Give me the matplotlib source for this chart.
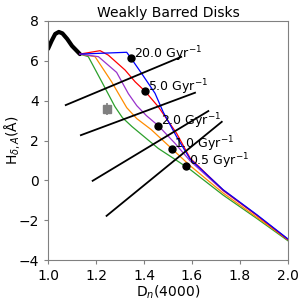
import matplotlib
matplotlib.use('Agg')
import matplotlib.pyplot as plt
import numpy as np

# early rising part of the model track
peak_x = [1.0, 1.015, 1.03, 1.045, 1.06, 1.08, 1.10, 1.133]
peak_y = [6.6, 7.0, 7.35, 7.45, 7.38, 7.1, 6.75, 6.34]

# SFH tracks, one per colour
blue_x = [1.133, 1.328, 1.346, 1.39, 1.446, 1.48, 1.536, 1.592, 1.73, 1.87, 2.0]
blue_y = [6.34, 6.43, 6.13, 5.37, 4.37, 3.43, 2.19, 1.07, -0.47, -1.72, -2.94]

red_x = [1.133, 1.217, 1.251, 1.321, 1.363, 1.404, 1.46, 1.536, 1.592, 1.73, 1.87, 2.0]
red_y = [6.34, 6.51, 6.29, 5.54, 4.95, 4.48, 3.69, 2.36, 1.12, -0.49, -1.75, -2.97]

purple_x = [1.133, 1.21, 1.286, 1.335, 1.37, 1.41, 1.46, 1.53, 1.592, 1.73, 1.87, 2.0]
purple_y = [6.34, 6.21, 5.42, 4.35, 3.75, 3.25, 2.74, 1.85, 0.98, -0.52, -1.75, -2.97]

orange_x = [1.133, 1.196, 1.265, 1.328, 1.37, 1.43, 1.515, 1.592, 1.73, 1.87, 2.0]
orange_y = [6.34, 6.21, 4.95, 3.65, 3.1, 2.55, 1.6, 0.74, -0.64, -1.85, -2.98]

green_x = [1.133, 1.168, 1.224, 1.279, 1.31, 1.35, 1.40, 1.46, 1.53, 1.592, 1.73, 1.87, 2.0]
green_y = [6.34, 6.21, 4.95, 3.7, 3.15, 2.7, 2.2, 1.6, 1.05, 0.55, -0.74, -1.91, -3.03]

# marked points and labels
dot_x = [1.346, 1.404, 1.458, 1.515, 1.575]
dot_y = [6.13, 4.47, 2.74, 1.6, 0.73]
dot_labels = ['20.0 Gyr$^{-1}$', '5.0 Gyr$^{-1}$', '2.0 Gyr$^{-1}$',
              '1.0 Gyr$^{-1}$', '0.5 Gyr$^{-1}$']

# straight black lines (start, end)
seg_x0 = [1.074, 1.137, 1.186, 1.244]
seg_y0 = [3.78, 2.27, -0.02, -1.78]
seg_x1 = [1.555, 1.6125, 1.668, 1.724]
seg_y1 = [6.2, 4.40, 3.48, 2.94]

# observed point
obs_x = 1.247
obs_y = 3.58
obs_err = 0.3

fig = plt.figure(figsize=(3, 3), dpi=100)
ax = fig.add_axes([0.16, 0.133, 0.80, 0.797])

ax.plot(peak_x, peak_y, color='black', lw=3, solid_capstyle='round')
ax.plot(green_x, green_y, color='tab:green', lw=0.9)
ax.plot(orange_x, orange_y, color='darkorange', lw=0.9)
ax.plot(purple_x, purple_y, color='darkorchid', lw=0.9)
ax.plot(red_x, red_y, color='red', lw=0.9)
ax.plot(blue_x, blue_y, color='blue', lw=0.9)

for i in range(len(seg_x0)):
    ax.plot([seg_x0[i], seg_x1[i]], [seg_y0[i], seg_y1[i]], color='black', lw=1.3)

ax.plot(dot_x, dot_y, 'o', color='black', ms=5)
for x, y, t in zip(dot_x, dot_y, dot_labels):
    ax.text(x + 0.012, y + 0.22, t, fontsize=9, va='center', ha='left')

ax.errorbar([obs_x], [obs_y], yerr=[obs_err], fmt='s', color='gray', ms=6, elinewidth=1.2)

ax.set_xlim(1.0, 2.0)
ax.set_ylim(-4, 8)
ax.set_xticks([1.0, 1.2, 1.4, 1.6, 1.8, 2.0])
ax.set_yticks([-4, -2, 0, 2, 4, 6, 8])
ax.tick_params(labelsize=10, color='gray', length=3)
for s in ax.spines.values():
    s.set_color('gray')
ax.set_title('Weakly Barred Disks', fontsize=10, pad=3)
ax.set_xlabel('D$_n$(4000)', fontsize=10, labelpad=0)
ax.set_ylabel('H$_{\\delta,A}$(Å)', fontsize=10)
ax.yaxis.set_label_coords(-0.11, 0.5)

fig.savefig('out.png', dpi=100)
